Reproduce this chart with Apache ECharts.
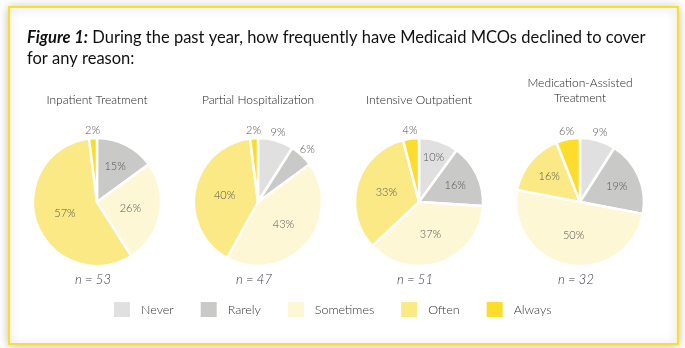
<!DOCTYPE html>
<html>
<head>
<meta charset="utf-8">
<script src="https://cdn.jsdelivr.net/npm/echarts@6/dist/echarts.min.js"></script>
<style>
  html, body { margin: 0; padding: 0; background: #ffffff; }
  #chart { width: 685px; height: 348px; }
</style>
</head>
<body>
<div id="chart"></div>
<script>
// ---- data ----
const categories = ['Never', 'Rarely', 'Sometimes', 'Often', 'Always'];
const pieTitles = ['Inpatient Treatment', 'Partial Hospitalization', 'Intensive Outpatient', 'Medication-Assisted\nTreatment'];
const sampleSizes = [53, 47, 51, 32];
const inpatient = [0, 15, 26, 57, 2];
const partialHosp = [9, 6, 43, 40, 2];
const intensiveOut = [10, 16, 37, 33, 4];
const medAssisted = [9, 19, 50, 16, 6];
const pieValues = [inpatient, partialHosp, intensiveOut, medAssisted];

// ---- layout / style ----
const colors = ['#e0e0e0', '#c9c9c7', '#fef7d6', '#fbe985', '#fcdd2c'];
const centersX = [97, 258, 419, 580];
const centerY = 202;
const radius = 64;
const FONT = 'Lato, "Open Sans", sans-serif';

function labelDist(v) {
  if (v < 10) return 72;
  if (v < 12) return 47;
  if (v < 21) return 40;
  return 34;
}

const chart = echarts.init(document.getElementById('chart'), null, { renderer: 'canvas' });

const series = pieValues.map(function (vals, si) {
  return {
    type: 'pie',
    name: pieTitles[si],
    center: [centersX[si], centerY],
    radius: [0, radius],
    startAngle: 90,
    clockwise: true,
    animation: false,
    silent: true,
    avoidLabelOverlap: false,
    itemStyle: { borderColor: '#ffffff', borderWidth: 2.5 },
    label: {
      show: true,
      position: 'inside',
      fontFamily: FONT,
      fontSize: 11,
      fontWeight: 300,
      color: '#555555',
      formatter: function (p) { return p.value > 0 ? p.value + '%' : ''; }
    },
    labelLine: { show: false },
    labelLayout: function (p) {
      const cx = centersX[si], cy = centerY;
      const lx = p.labelRect.x + p.labelRect.width / 2;
      const ly = p.labelRect.y + p.labelRect.height / 2;
      let dx = lx - cx, dy = ly - cy;
      const len = Math.hypot(dx, dy) || 1;
      const d = labelDist(vals[p.dataIndex]);
      return { x: cx + dx / len * d, y: cy + dy / len * d, align: 'center', verticalAlign: 'middle' };
    },
    data: categories.map(function (c, i) {
      return { name: c, value: vals[i], itemStyle: { color: colors[i] } };
    })
  };
});

const graphics = [
  {
    type: 'rect', z: -10, silent: true,
    shape: { x: 9, y: 7, width: 669, height: 337 },
    style: { fill: '#ffffff', stroke: '#fcdc2e', lineWidth: 2.2,
             shadowBlur: 10, shadowColor: 'rgba(0,0,0,0.22)', shadowOffsetX: 0, shadowOffsetY: 1 }
  },
  {
    type: 'text', left: 27, top: 27, silent: true,
    style: {
      text: '{b|Figure 1:} During the past year, how frequently have Medicaid MCOs declined to cover\nfor any reason:',
      rich: {
        b: { fontFamily: FONT, fontSize: 16.5, fontWeight: 'bold', fontStyle: 'italic', fill: '#111111' }
      },
      fontFamily: FONT, fontSize: 16.5, fill: '#111111', lineHeight: 21
    }
  }
];

pieTitles.forEach(function (t, i) {
  const twoLines = t.indexOf('\n') >= 0;
  graphics.push({
    type: 'text', silent: true,
    x: centersX[i], y: twoLines ? 90.5 : 100,
    style: { text: t, fontFamily: FONT, fontSize: 12, fontWeight: 300, fill: '#222222',
             textAlign: 'center', textVerticalAlign: 'middle', lineHeight: 15 }
  });
  graphics.push({
    type: 'text', silent: true,
    x: centersX[i] - 4, y: 280,
    style: { text: 'n = ' + sampleSizes[i], fontFamily: FONT, fontSize: 13, fontStyle: 'italic',
             fontWeight: 300, fill: '#3a3a48', textAlign: 'center', textVerticalAlign: 'middle' }
  });
});

chart.setOption({
  animation: false,
  backgroundColor: 'transparent',
  color: colors,
  legend: {
    data: categories,
    left: 107,
    top: 295,
    itemWidth: 18,
    itemHeight: 17,
    itemGap: 25,
    icon: 'rect',
    selectedMode: false,
    textStyle: { fontFamily: FONT, fontSize: 12.5, fontWeight: 300, color: '#333333', padding: [0, 0, 0, 5] }
  },
  graphic: graphics,
  series: series
});
</script>
</body>
</html>
